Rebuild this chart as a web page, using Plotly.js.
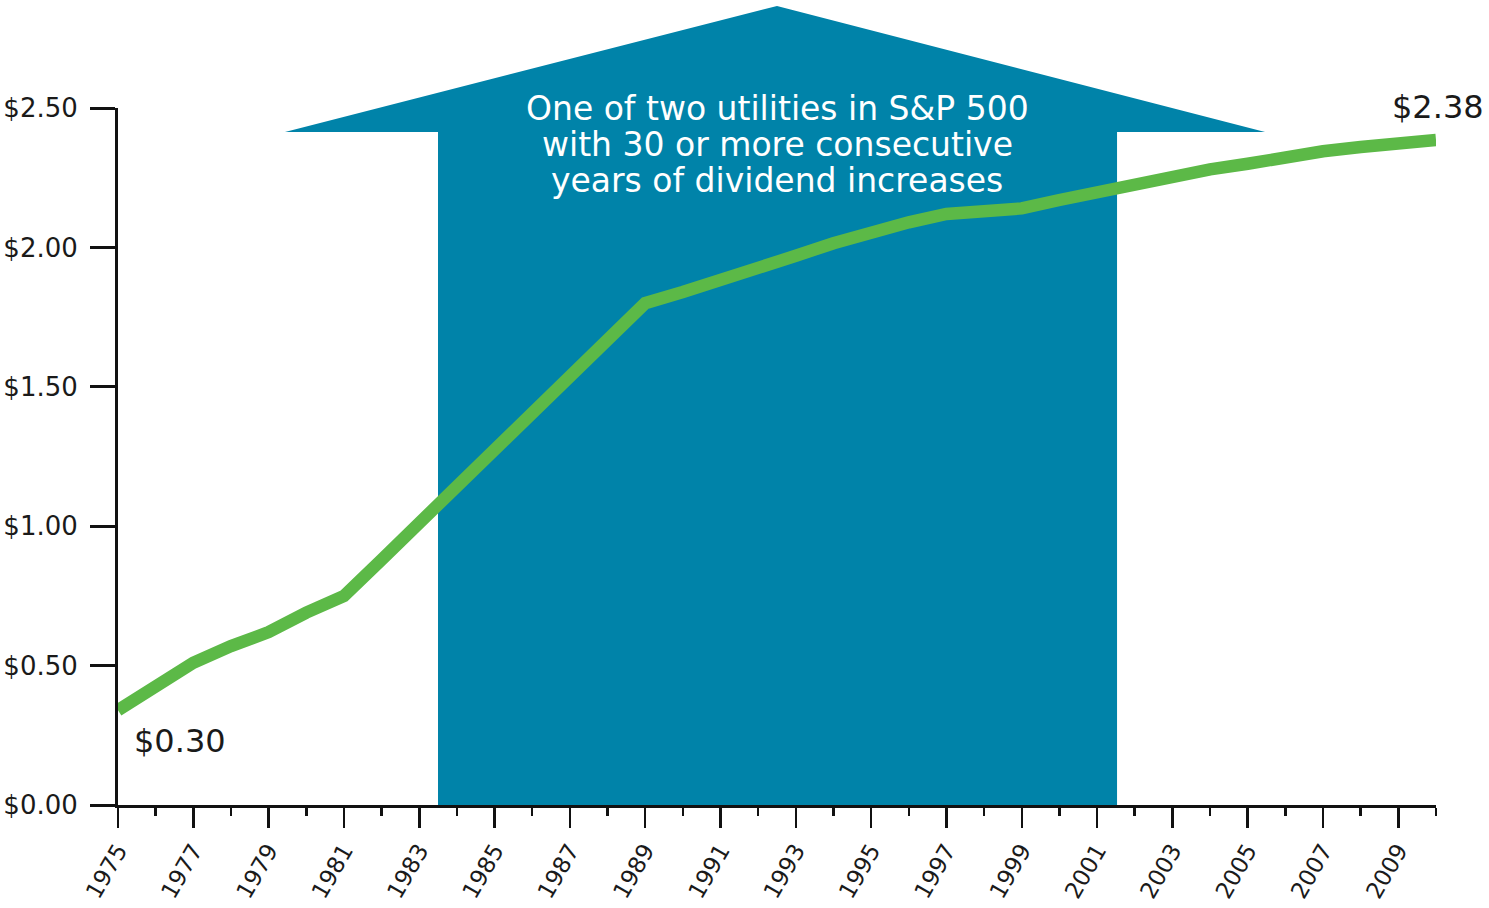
<!DOCTYPE html>
<html>
<head>
<meta charset="utf-8">
<script src="https://cdn.plot.ly/plotly-3.0.1.min.js"></script>
<style>
  html, body { margin: 0; padding: 0; background: #ffffff; }
  #chart { width: 1489px; height: 908px; }
</style>
</head>
<body>
<div id="chart"></div>
<script>
// ---- data ----
const years = [1975,1976,1977,1978,1979,1980,1981,1982,1983,1984,1985,1986,1987,1988,1989,1990,1991,1992,
               1993,1994,1995,1996,1997,1998,1999,2000,2001,2002,2003,2004,2005,2006,2007,2008,2009,2010];
const dividends = [0.34,0.43,0.51,0.57,0.62,0.69,0.75,0.88,1.01,1.14,1.27,1.40,1.53,1.67,1.80,1.84,1.88,1.925,
                   1.97,2.015,2.055,2.09,2.12,2.13,2.14,2.17,2.20,2.225,2.25,2.28,2.30,2.325,2.345,2.36,2.37,2.385];
const startLabel = "$0.30";
const endLabel = "$2.38";
const calloutLines = ["One of two utilities in S&P 500",
                      "with 30 or more consecutive",
                      "years of dividend increases"];
const yTickVals = [0, 0.5, 1.0, 1.5, 2.0, 2.5];

// ---- decoration geometry (paper coordinates) ----
const arrowPath = "M 0.2428 0 L 0.2428 0.9656 L 0.1267 0.9656 L 0.5 1.1464 " +
                  "L 0.8703 0.9656 L 0.758 0.9656 L 0.758 0 Z";
const calloutY = [0.9986, 0.9472, 0.8959];

const FONT = "DejaVu Sans, Liberation Sans, Arial, sans-serif";
const BLUE = "#0083a9";
const GREEN = "#5cb947";

const trace = {
  x: years,
  y: dividends,
  type: "scatter",
  mode: "lines",
  line: { color: GREEN, width: 12.5 },
  hoverinfo: "skip",
  showlegend: false
};

const annotations = calloutLines.map((t, i) => ({
  text: t, xref: "paper", yref: "paper", x: 0.5, y: calloutY[i],
  xanchor: "center", yanchor: "middle", showarrow: false,
  font: { family: FONT, size: 33, color: "#ffffff" }
}));
annotations.push({
  text: startLabel, xref: "x", yref: "y", x: years[0], y: dividends[0],
  xanchor: "left", yanchor: "middle", xshift: 14, yshift: -31, showarrow: false,
  font: { family: FONT, size: 32, color: "#1a1a1a" }
});
annotations.push({
  text: endLabel, xref: "x", yref: "y", x: years[years.length - 1], y: dividends[dividends.length - 1],
  xanchor: "center", yanchor: "middle", xshift: 2, yshift: 33, showarrow: false,
  font: { family: FONT, size: 32, color: "#1a1a1a" }
});

const layout = {
  width: 1489, height: 908,
  paper_bgcolor: "#ffffff", plot_bgcolor: "rgba(0,0,0,0)",
  margin: { l: 118, r: 53, t: 108, b: 103, pad: 0 },
  showlegend: false,
  xaxis: {
    range: [1975, 2010], autorange: false,
    tickmode: "linear", tick0: 1975, dtick: 2,
    ticks: "outside", ticklen: 20, tickwidth: 2.5, tickcolor: "#111",
    tickangle: -60,
    tickfont: { family: FONT, size: 23, color: "#1a1a1a" },
    minor: { dtick: 1, tick0: 1975, ticks: "outside", ticklen: 8, tickwidth: 2.5, tickcolor: "#111", showgrid: false },
    showline: true, linecolor: "#111", linewidth: 3,
    showgrid: false, zeroline: false, automargin: false, fixedrange: true
  },
  yaxis: {
    range: [0, 2.5], autorange: false,
    tickmode: "array", tickvals: yTickVals,
    tickformat: "$.2f",
    ticks: "outside", ticklen: 25, tickwidth: 3, tickcolor: "#111",
    ticklabelstandoff: 7,
    tickfont: { family: FONT, size: 26, color: "#1a1a1a" },
    showline: true, linecolor: "#111", linewidth: 3,
    showgrid: false, zeroline: false, automargin: false, fixedrange: true
  },
  shapes: [{
    type: "path", xref: "paper", yref: "paper", path: arrowPath,
    fillcolor: BLUE, line: { width: 0 }, layer: "below"
  }],
  annotations: annotations
};

Plotly.newPlot("chart", [trace], layout, { displayModeBar: false, staticPlot: true });
</script>
</body>
</html>
